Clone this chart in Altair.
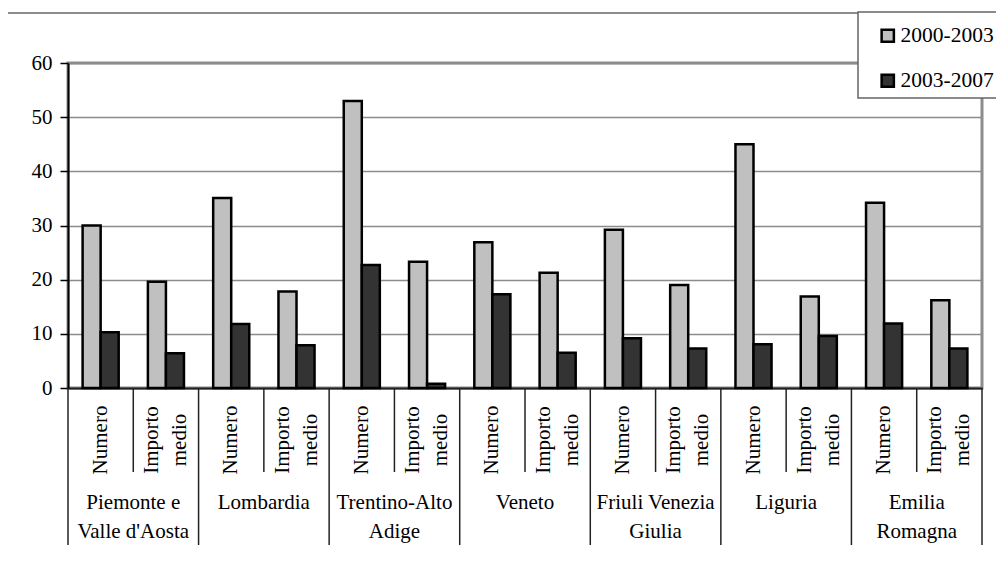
import altair as alt
import pandas as pd

regions = ["Piemonte e\nValle d'Aosta", "Lombardia", "Trentino-Alto\nAdige", "Veneto",
           "Friuli Venezia\nGiulia", "Liguria", "Emilia\nRomagna"]
measures = ["Numero", "Importo\nmedio"]
series = ["2000-2003", "2003-2007"]
v_2000_2003 = [30.0, 19.6, 35.1, 17.8, 53.0, 23.3, 26.9, 21.3, 29.2, 19.0, 45.0, 16.9, 34.2, 16.2]
v_2003_2007 = [10.3, 6.4, 11.8, 7.9, 22.7, 0.8, 17.3, 6.5, 9.2, 7.3, 8.1, 9.6, 11.9, 7.3]
y_ticks = [0, 10, 20, 30, 40, 50, 60]

FONT = "Liberation Serif"
FS = 21

keys = []
band_rows = []
for i, r in enumerate(regions):
    for j, m in enumerate(measures):
        k = f"{i}-{j}"
        keys.append(k)
        band_rows.append({"key": k, "measure": m, "region": r, "j": j})
bands = pd.DataFrame(band_rows)

bar_rows = []
for idx, k in enumerate(keys):
    bar_rows.append({"key": k, "series": series[0], "value": v_2000_2003[idx]})
    bar_rows.append({"key": k, "series": series[1], "value": v_2003_2007[idx]})
bars_df = pd.DataFrame(bar_rows)

xscale = alt.Scale(domain=keys, paddingInner=0, paddingOuter=0)

bars = alt.Chart(bars_df).mark_bar(stroke="black", strokeWidth=2.5).encode(
    x=alt.X("key:N", sort=keys, scale=xscale,
            axis=alt.Axis(labels=False, ticks=False, title=None, domainColor="#222", domainWidth=2)),
    xOffset=alt.XOffset("series:N", sort=series,
                        scale=alt.Scale(domain=series, paddingOuter=0.81, paddingInner=0)),
    y=alt.Y("value:Q", scale=alt.Scale(domain=[0, 60], nice=False),
            axis=alt.Axis(values=y_ticks, title=None, grid=True, gridColor="#8c8c8c",
                          gridWidth=1.5, domainColor="black", domainWidth=2,
                          tickColor="black", tickSize=8, tickWidth=1.5,
                          labelFont=FONT, labelFontSize=FS, labelColor="black",
                          labelPadding=8)),
    fill=alt.Fill("series:N", sort=series,
                  scale=alt.Scale(domain=series, range=["#c0c0c0", "#333333"]),
                  legend=alt.Legend(title=None, orient="none", legendX=809, legendY=-38,
                                    labelFont=FONT, labelFontSize=21.5, labelColor="black",
                                    symbolType="square", symbolSize=150,
                                    symbolStrokeColor="black", symbolStrokeWidth=2.5,
                                    rowPadding=22, labelOffset=2, padding=0)),
)

numero_text = alt.Chart(bands[bands["j"] == 0]).mark_text(
    angle=270, align="center", baseline="middle", font=FONT, fontSize=FS,
    color="black"
).encode(
    x=alt.X("key:N", sort=keys, scale=xscale),
    y=alt.value(377),
    text="measure:N",
)

importo_text = alt.Chart(bands[bands["j"] == 1]).mark_text(
    angle=270, align="center", baseline="middle", font=FONT, fontSize=FS,
    color="black", lineBreak="\n", lineHeight=28, dy=-14
).encode(
    x=alt.X("key:N", sort=keys, scale=xscale),
    y=alt.value(377),
    text="measure:N",
)

region_text = alt.Chart(bands[bands["j"] == 0]).mark_text(
    align="center", baseline="alphabetic", font=FONT, fontSize=FS,
    color="black", lineBreak="\n", lineHeight=29
).encode(
    x=alt.X("key:N", sort=keys, scale=xscale, bandPosition=1),
    y=alt.value(446),
    text="region:N",
)

inner_sep = alt.Chart(bands[bands["j"] == 1]).mark_rule(color="#222", strokeWidth=1.5).encode(
    x=alt.X("key:N", sort=keys, scale=xscale, bandPosition=0),
    y=alt.value(325), y2=alt.value(409),
)

outer_sep = alt.Chart(bands[bands["j"] == 0]).mark_rule(color="#222", strokeWidth=1.5).encode(
    x=alt.X("key:N", sort=keys, scale=xscale, bandPosition=0),
    y=alt.value(325), y2=alt.value(482),
)

last_sep = alt.Chart(bands.tail(1)).mark_rule(color="#222", strokeWidth=1.5).encode(
    x=alt.X("key:N", sort=keys, scale=xscale, bandPosition=1),
    y=alt.value(325), y2=alt.value(482),
)

frame_top = alt.Chart(bands.head(1)).mark_rule(color="#666", strokeWidth=1.5).encode(
    x=alt.value(-61), x2=alt.value(790), y=alt.value(-50)
)
frame_left = alt.Chart(bands.head(1)).mark_rule(color="#666", strokeWidth=1.5).encode(
    x=alt.value(-61), y=alt.value(-50), y2=alt.value(520)
)
legend_box = alt.Chart(bands.head(1)).mark_rect(fill="white", stroke="#666", strokeWidth=1.5).encode(
    x=alt.value(790), x2=alt.value(1000), y=alt.value(-51), y2=alt.value(35)
)

chart = alt.layer(
    frame_top, frame_left, legend_box, bars, numero_text, importo_text, region_text,
    inner_sep, outer_sep, last_sep
).properties(
    width=914, height=325,
    autosize=alt.AutoSizeParams(type="none"),
    padding={"left": 60, "top": 55, "right": 14, "bottom": 166},
    background="white",
).configure_view(stroke="#8c8c8c", strokeWidth=3)

chart.save("out.html", embed_options={"renderer": "svg", "actions": False})
